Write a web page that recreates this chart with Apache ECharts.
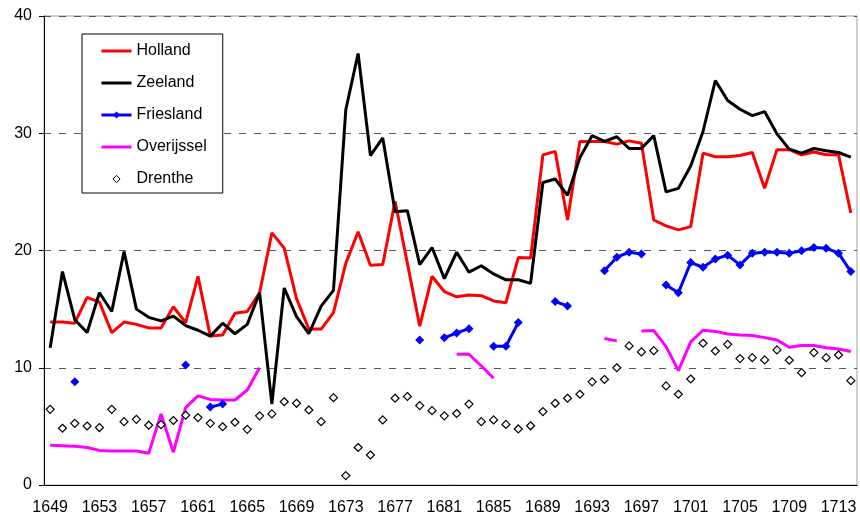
<!DOCTYPE html>
<html>
<head>
<meta charset="utf-8">
<script src="https://cdn.jsdelivr.net/npm/echarts@6/dist/echarts.min.js"></script>
<style>
  html, body { margin: 0; padding: 0; background: #fff; }
  #chart { width: 860px; height: 521px; }
</style>
</head>
<body>
<div id="chart"></div>
<script>
var years = ['1649','1650','1651','1652','1653','1654','1655','1656','1657','1658','1659','1660','1661','1662','1663','1664','1665','1666','1667','1668','1669','1670','1671','1672','1673','1674','1675','1676','1677','1678','1679','1680','1681','1682','1683','1684','1685','1686','1687','1688','1689','1690','1691','1692','1693','1694','1695','1696','1697','1698','1699','1700','1701','1702','1703','1704','1705','1706','1707','1708','1709','1710','1711','1712','1713','1714'];

var holland = [13.9, 13.9, 13.8, 16.0, 15.6, 13.0, 13.9, 13.7, 13.4, 13.4, 15.2, 13.85, 17.8, 12.7, 12.8, 14.65, 14.8, 16.4, 21.5, 20.2, 15.9, 13.3, 13.3, 14.7, 18.9, 21.6, 18.75, 18.8, 24.2, 18.9, 13.55, 17.8, 16.5, 16.05, 16.2, 16.15, 15.7, 15.55, 19.4, 19.35, 28.16, 28.45, 22.6, 29.3, 29.3, 29.3, 29.07, 29.35, 29.15, 22.6, 22.1, 21.76, 22.04, 28.3, 28.0, 28.0, 28.1, 28.36, 25.3, 28.6, 28.6, 28.16, 28.4, 28.16, 28.16, 23.2];

var zeeland = [11.7, 18.2, 14.1, 13.0, 16.4, 14.8, 19.9, 15.0, 14.3, 14.0, 14.4, 13.6, 13.2, 12.7, 13.8, 12.9, 13.7, 16.4, 6.9, 16.8, 14.36, 12.9, 15.25, 16.6, 32.0, 36.8, 28.1, 29.6, 23.3, 23.4, 18.8, 20.25, 17.6, 19.85, 18.15, 18.7, 18.0, 17.5, 17.5, 17.2, 25.8, 26.1, 24.7, 27.9, 29.8, 29.3, 29.7, 28.7, 28.7, 29.8, 25.0, 25.3, 27.2, 30.15, 34.5, 32.8, 32.05, 31.5, 31.85, 29.95, 28.64, 28.3, 28.7, 28.5, 28.36, 27.96];

var friesland = [null, null, 8.8, null, null, null, null, null, null, null, null, 10.24, null, 6.65, 6.9, null, null, null, null, null, null, null, null, null, null, null, null, null, null, null, 12.37, null, 12.55, 12.97, 13.33, null, 11.83, 11.83, 13.85, null, null, 15.64, 15.27, null, null, 18.28, 19.43, 19.85, 19.7, null, 17.06, 16.4, 18.97, 18.57, 19.28, 19.6, 18.77, 19.77, 19.85, 19.85, 19.77, 19.97, 20.25, 20.2, 19.77, 18.2];

var overijssel = [3.4, 3.35, 3.3, 3.2, 2.95, 2.9, 2.9, 2.9, 2.7, 6.06, 2.8, 6.6, 7.6, 7.3, 7.25, 7.25, 8.1, 10.0, null, null, null, null, null, null, null, null, null, null, null, null, null, null, null, 11.15, 11.15, 10.15, 9.1, null, null, null, null, null, null, null, null, 12.5, 12.29, null, 13.14, 13.17, 11.8, 9.75, 12.2, 13.2, 13.1, 12.88, 12.8, 12.75, 12.57, 12.37, 11.75, 11.9, 11.9, 11.7, 11.6, 11.38];

var drenthe = [6.45, 4.84, 5.26, 5.03, 4.9, 6.45, 5.4, 5.6, 5.1, 5.15, 5.5, 5.95, 5.75, 5.26, 4.97, 5.35, 4.75, 5.9, 6.06, 7.1, 6.97, 6.4, 5.4, 7.45, 0.8, 3.2, 2.56, 5.55, 7.4, 7.55, 6.77, 6.34, 5.9, 6.1, 6.9, 5.4, 5.55, 5.17, 4.78, 5.05, 6.26, 6.97, 7.4, 7.74, 8.8, 9.0, 10.0, 11.86, 11.35, 11.46, 8.45, 7.74, 9.04, 12.09, 11.43, 12.0, 10.78, 10.86, 10.67, 11.52, 10.64, 9.58, 11.29, 10.86, 11.09, 8.9];

var font = 'Liberation Sans, Arial, sans-serif';

var myChart = echarts.init(document.getElementById('chart'));
var option = {
    animation: false,
    backgroundColor: '#fff',
    textStyle: { fontFamily: font },
    grid: {
        left: 44, right: 3, top: 16, bottom: 36,
        show: true, borderColor: '#a0a0a0', borderWidth: 1
    },
    legend: {
        orient: 'vertical',
        left: 82, top: 34,
        backgroundColor: '#fff',
        borderColor: '#000', borderWidth: 1, borderRadius: 0,
        padding: [9, 16, 6, 18],
        itemWidth: 30, itemHeight: 9, itemGap: 16,
        lineStyle: { width: 3 },
        textStyle: { fontSize: 16, color: '#000', fontFamily: font },
        data: [
            { name: 'Holland', itemStyle: { opacity: 0 } },
            { name: 'Zeeland', itemStyle: { opacity: 0 } },
            { name: 'Friesland' },
            { name: 'Overijssel', itemStyle: { opacity: 0 } },
            { name: 'Drenthe', lineStyle: { width: 0, opacity: 0 },
              itemStyle: { color: '#fff', borderColor: '#000', borderWidth: 1 } }
        ]
    },
    xAxis: {
        type: 'category',
        data: years,
        boundaryGap: true,
        axisLine: { lineStyle: { color: '#000', width: 1 } },
        axisTick: { interval: 3, length: 5, lineStyle: { color: '#000' } },
        axisLabel: { interval: 3, margin: 15, fontSize: 16, color: '#000', fontFamily: font },
        splitLine: { show: false }
    },
    yAxis: {
        type: 'value',
        min: 0, max: 40, interval: 10,
        axisLine: { show: true, lineStyle: { color: '#000', width: 1 } },
        axisTick: { show: true, length: 5, lineStyle: { color: '#000' } },
        axisLabel: { margin: 12, fontSize: 16, color: '#000', fontFamily: font },
        splitLine: { lineStyle: { color: '#555', type: [7, 8], width: 1 } }
    },
    series: [
        {
            name: 'Holland', type: 'line', data: holland,
            symbol: 'none', color: '#ff0000',
            lineStyle: { color: '#ff0000', width: 3 }
        },
        {
            name: 'Zeeland', type: 'line', data: zeeland,
            symbol: 'none', color: '#000000',
            lineStyle: { color: '#000000', width: 3 }
        },
        {
            name: 'Friesland', type: 'line', data: friesland,
            symbol: 'diamond', symbolSize: 9, showAllSymbol: true,
            color: '#0000ff',
            itemStyle: { color: '#0000ff' },
            lineStyle: { color: '#0000ff', width: 3 }
        },
        {
            name: 'Overijssel', type: 'line', data: overijssel,
            symbol: 'none', color: '#ff00ff',
            lineStyle: { color: '#ff00ff', width: 3 }
        },
        {
            name: 'Drenthe', type: 'line', data: drenthe,
            symbol: 'diamond', symbolSize: 8, showAllSymbol: true,
            color: '#000',
            itemStyle: { color: '#fff', borderColor: '#000', borderWidth: 1.2 },
            lineStyle: { width: 0, opacity: 0 }
        }
    ]
};
myChart.setOption(option);
</script>
</body>
</html>
